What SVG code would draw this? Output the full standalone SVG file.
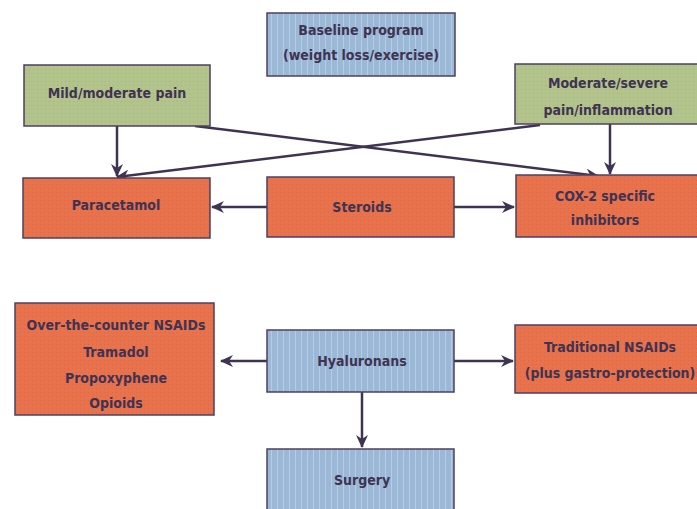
<svg xmlns="http://www.w3.org/2000/svg" width="697" height="509" viewBox="0 0 697 509">
<style>
.box{stroke:#4d4060;stroke-width:1.5}
.blue{fill:url(#pBlue)}
.green{fill:url(#pGreen)}
.orange{fill:url(#pOrange)}
text{font-family:"DejaVu Sans Condensed","DejaVu Sans","Liberation Sans",sans-serif;font-weight:bold;font-size:14px;fill:#3f3352;text-anchor:middle;dominant-baseline:central}
.conn{stroke:#3f3352;stroke-width:2.5;fill:none;marker-end:url(#ah)}
</style>
<defs>
<pattern id="pBlue" width="6" height="6" patternUnits="userSpaceOnUse">
<rect width="6" height="6" fill="#9bb9d6"/>
<path d="M1.5,0 V6" stroke="#b4cde4" stroke-width="1"/>
</pattern>
<pattern id="pGreen" width="4" height="4" patternUnits="userSpaceOnUse">
<rect width="4" height="4" fill="#b3c38c"/>
<rect x="1" y="1" width="1" height="1" fill="#a3b47e"/>
</pattern>
<pattern id="pOrange" width="4" height="4" patternUnits="userSpaceOnUse">
<rect width="4" height="4" fill="#e8724c"/>
<rect x="0" y="0" width="1" height="1" fill="#dc6a48"/>
</pattern>
<marker id="ah" markerWidth="14" markerHeight="12" refX="12" refY="6" orient="auto" markerUnits="userSpaceOnUse">
<path d="M0,0 L13,6 L0,12 L4,6 z" fill="#3f3352"/>
</marker>
</defs>
<g id="connectors">
<line class="conn" x1="117" y1="126" x2="117" y2="176"/>
<line class="conn" x1="610" y1="124" x2="610" y2="174"/>
<line class="conn" x1="195" y1="126" x2="598" y2="176"/>
<line class="conn" x1="540" y1="125" x2="117" y2="177"/>
<line class="conn" x1="267" y1="207" x2="212" y2="207"/>
<line class="conn" x1="454" y1="207" x2="514" y2="207"/>
<line class="conn" x1="267" y1="361" x2="221" y2="361"/>
<line class="conn" x1="454" y1="361" x2="513" y2="361"/>
<line class="conn" x1="362" y1="392" x2="362" y2="447"/>
</g>
<g id="baseline">
<rect class="box blue" x="267" y="13" width="188" height="63"/>
<text x="361" y="30">Baseline program</text>
<text x="361" y="55">(weight loss/exercise)</text>
</g>
<g id="mild">
<rect class="box green" x="24" y="65" width="186" height="61"/>
<text x="117" y="93">Mild/moderate pain</text>
</g>
<g id="severe">
<rect class="box green" x="515" y="64" width="185" height="60"/>
<text x="608" y="83">Moderate/severe</text>
<text x="608" y="110">pain/inflammation</text>
</g>
<g id="paracetamol">
<rect class="box orange" x="23" y="178" width="187" height="60"/>
<text x="116" y="205">Paracetamol</text>
</g>
<g id="steroids">
<rect class="box orange" x="267" y="177" width="187" height="60"/>
<text x="362" y="207">Steroids</text>
</g>
<g id="cox2">
<rect class="box orange" x="516" y="175" width="184" height="62"/>
<text x="605" y="196">COX-2 specific</text>
<text x="605" y="220">inhibitors</text>
</g>
<g id="otc">
<rect class="box orange" x="15" y="303" width="199" height="112"/>
<text x="116" y="325">Over-the-counter NSAIDs</text>
<text x="116" y="352">Tramadol</text>
<text x="116" y="378">Propoxyphene</text>
<text x="116" y="403">Opioids</text>
</g>
<g id="hyaluronans">
<rect class="box blue" x="267" y="330" width="187" height="62"/>
<text x="362" y="361">Hyaluronans</text>
</g>
<g id="traditional">
<rect class="box orange" x="515" y="325" width="185" height="68"/>
<text x="610" y="347">Traditional NSAIDs</text>
<text x="610" y="373">(plus gastro-protection)</text>
</g>
<g id="surgery">
<rect class="box blue" x="267" y="449" width="187" height="62"/>
<text x="362" y="480">Surgery</text>
</g>
</svg>
